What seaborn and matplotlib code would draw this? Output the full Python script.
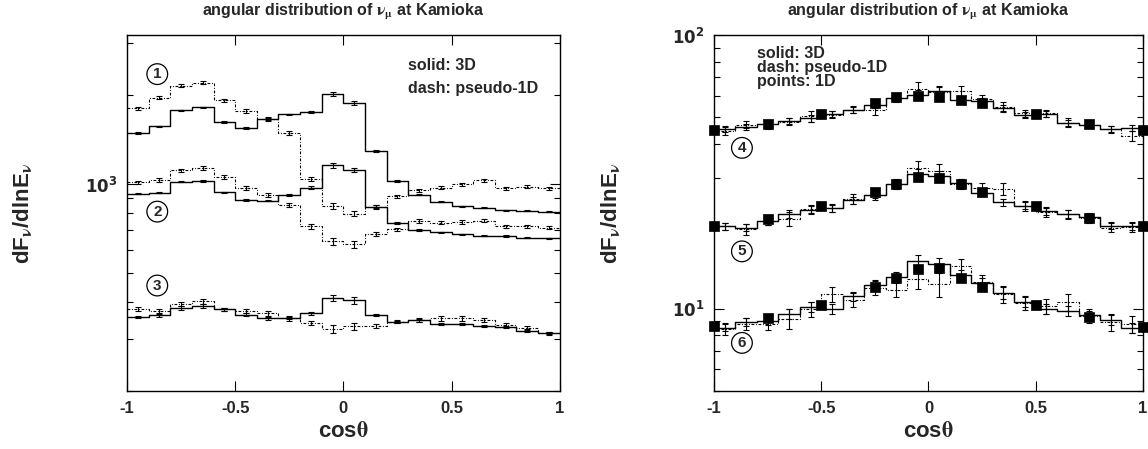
import numpy as np
import pandas as pd
import matplotlib
matplotlib.use("Agg")
import matplotlib.pyplot as plt
import seaborn as sns
from matplotlib.ticker import FuncFormatter, NullFormatter, LogLocator

# ---------------- data ----------------
bin_edges = [-1.0, -0.9, -0.8, -0.7, -0.6, -0.5, -0.4, -0.3, -0.2, -0.1, 0.0,
             0.1, 0.2, 0.3, 0.4, 0.5, 0.6, 0.7, 0.8, 0.9, 1.0]
bin_centers = [-0.95, -0.85, -0.75, -0.65, -0.55, -0.45, -0.35, -0.25, -0.15, -0.05,
               0.05, 0.15, 0.25, 0.35, 0.45, 0.55, 0.65, 0.75, 0.85, 0.95]

# left panel (curves 1-3): 3D (solid) and pseudo-1D (dash)
c1_3d = [1490, 1572, 1778, 1821, 1628, 1553, 1664, 1725, 1763, 2022, 1888, 1295, 1026, 924, 874, 843, 834, 817, 816, 809]
c1_p1d = [1807, 1967, 2156, 2210, 1924, 1770, 1665, 1490, 1046, 845, 796, 840, 911, 956, 975, 1000, 1031, 969, 982, 969]
c2_3d = [930, 938, 1021, 1025, 940, 886, 882, 918, 976, 1159, 1116, 840, 741, 701, 688, 678, 670, 669, 660, 657]
c2_p1d = [1018, 1035, 1117, 1136, 1058, 973, 918, 853, 722, 642, 628, 679, 706, 752, 741, 746, 753, 722, 723, 714]
c3_3d = [356, 361, 382, 388, 378, 363, 352, 354, 366, 413, 405, 362, 343, 347, 336, 336, 333, 329, 320, 314]
c3_p1d = [380, 372, 395, 402, 378, 374, 366, 352, 340, 325, 331, 332, 343, 349, 352, 352, 349, 334, 326, 314]

# relative errors (%)
c1_3d_err = [0.6, 0.6, 0.6, 0.6, 0.6, 0.6, 0.6, 0.6, 0.8, 1.8, 1.4, 0.8, 0.6, 0.6, 0.5, 0.5, 0.5, 0.5, 0.5, 0.5]
c1_p1d_err = [1.2, 1.2, 1.2, 1.2, 1.2, 1.4, 1.4, 1.6, 1.6, 2.2, 2.0, 1.5, 1.2, 1.2, 1.0, 1.0, 1.0, 1.0, 1.0, 1.0]
c2_3d_err = [0.6, 0.6, 0.6, 0.6, 0.6, 0.6, 0.6, 0.8, 0.8, 2.0, 1.6, 1.2, 0.6, 0.6, 0.5, 0.5, 0.5, 0.5, 0.5, 0.5]
c2_p1d_err = [1.2, 1.2, 1.2, 1.2, 1.4, 1.4, 1.6, 1.8, 1.8, 2.6, 2.6, 1.6, 1.2, 1.2, 1.2, 1.2, 1.2, 1.2, 1.2, 1.2]
c3_3d_err = [0.8, 1.2, 1.2, 1.6, 1.0, 1.0, 0.8, 0.8, 1.0, 2.6, 2.6, 1.0, 0.8, 1.2, 0.8, 0.8, 0.8, 0.8, 1.2, 0.8]
c3_p1d_err = [1.6, 1.6, 1.6, 2.0, 1.4, 1.6, 1.6, 1.6, 1.8, 3.2, 3.0, 1.6, 1.2, 1.6, 1.6, 1.6, 1.6, 1.6, 1.6, 1.2]

# right panel (curves 4-6): 3D (solid), pseudo-1D (dash), 1D (points)
c4_3d = [45.4, 46.3, 47.3, 48.6, 49.7, 51.5, 53.3, 55.6, 59.0, 60.6, 62.2, 57.9, 57.2, 53.9, 51.1, 51.5, 47.9, 47.0, 45.3, 45.7]
c4_p1d = [44.6, 47.0, 47.2, 48.3, 50.4, 51.1, 53.3, 53.0, 58.8, 63.4, 61.8, 62.5, 58.3, 54.8, 51.8, 51.8, 47.9, 47.0, 45.3, 42.8]
c5_3d = [20.0, 19.8, 20.9, 22.2, 23.0, 23.3, 24.9, 26.1, 28.6, 31.1, 30.6, 28.8, 26.5, 24.5, 23.8, 22.7, 22.2, 21.6, 20.1, 20.0]
c5_p1d = [20.0, 19.5, 21.0, 21.3, 23.1, 23.3, 25.2, 26.0, 28.6, 32.7, 31.8, 28.6, 27.5, 27.4, 23.7, 22.6, 22.1, 21.5, 19.8, 19.9]
c6_3d = [8.52, 8.94, 9.01, 9.59, 10.17, 10.0, 11.1, 12.2, 13.1, 15.0, 14.6, 13.3, 12.4, 11.4, 10.6, 10.0, 9.8, 9.45, 9.1, 8.5]
c6_p1d = [8.45, 8.81, 8.8, 9.2, 9.94, 11.3, 10.75, 11.9, 11.7, 12.8, 12.3, 14.3, 12.5, 11.3, 10.5, 10.2, 10.55, 9.4, 8.95, 8.8]

c4_3d_err = [2.5, 2.5, 3, 2.5, 3, 2.5, 2.5, 3, 3, 4, 4, 3, 3, 3, 2.5, 2.5, 2.5, 2.5, 2.5, 2.5]
c4_p1d_err = [3, 3, 4, 3, 4.5, 3, 3, 4, 3.5, 6, 5, 4, 3.5, 4, 3, 3, 3.5, 3, 3, 4]
c5_3d_err = [3, 3, 3, 3, 3, 3, 3, 3, 3.5, 4, 4, 3.5, 3, 3, 3, 3, 3, 3, 3, 3]
c5_p1d_err = [3, 5, 4, 6, 4, 3.5, 4, 4, 4, 6, 6, 4, 5, 5, 4, 4, 4, 4, 4, 4]
c6_3d_err = [3, 3, 3, 4, 4, 4, 4, 4, 4, 5, 5, 4, 4, 5, 4, 4, 4, 4, 4, 4]
c6_p1d_err = [5, 5, 5, 8, 6, 6, 6, 6, 6, 8, 10, 6, 6, 7, 6, 6, 7, 6, 7, 7]

points_x = [-1.0, -0.75, -0.5, -0.25, -0.15, -0.05, 0.05, 0.15, 0.25, 0.5, 0.75, 1.0]
c4_1d = [44.8, 47.3, 51.5, 56.5, 59.3, 60.0, 59.6, 57.9, 56.4, 51.5, 47.4, 45.0]
c5_1d = [20.1, 21.2, 23.7, 26.6, 28.6, 30.3, 30.0, 28.6, 26.6, 23.7, 21.5, 20.1]
c6_1d = [8.64, 9.27, 10.3, 12.0, 13.0, 14.0, 14.1, 13.0, 12.0, 10.3, 9.3, 8.6]

xticks = [-1, -0.5, 0, 0.5, 1]
xticklabels = ["-1", "-0.5", "0", "0.5", "1"]
title_text = r"angular distribution of $\mathrm{\nu_{\mu}}$ at Kamioka"
ylabel_text = r"dF$_{\mathrm{\nu}}$/dlnE$_{\mathrm{\nu}}$"
xlabel_text = r"cos$\mathrm{\theta}$"

# ---------------- style ----------------
sns.set_theme(style="ticks")
plt.rcParams["font.family"] = ["Liberation Sans", "DejaVu Sans"]
plt.rcParams["font.weight"] = "bold"
plt.rcParams["axes.labelweight"] = "bold"
plt.rcParams["axes.unicode_minus"] = False
plt.rcParams["mathtext.fontset"] = "custom"
plt.rcParams["mathtext.rm"] = "STIXGeneral"
plt.rcParams["mathtext.it"] = "STIXGeneral:italic"
plt.rcParams["mathtext.bf"] = "DejaVu Sans:weight=bold"
plt.rcParams["axes.edgecolor"] = "black"
plt.rcParams["axes.linewidth"] = 1.0

DASH = (0, (2.5, 1.5, 0.8, 1.5))


def draw_hist(ax, vals, errs, dashed):
    df = pd.DataFrame({"x": bin_edges, "y": list(vals) + [vals[-1]]})
    sns.lineplot(data=df, x="x", y="y", ax=ax, drawstyle="steps-post",
                 color="black", lw=0.8 if dashed else 1.0,
                 linestyle=DASH if dashed else "-",
                 estimator=None, errorbar=None, sort=True)
    v = np.array(vals, dtype=float)
    e = v * np.array(errs, dtype=float) / 100.0
    ax.errorbar(bin_centers, v, yerr=e, fmt="none", ecolor="black",
                elinewidth=0.8, capsize=2.2, capthick=0.8)


def style_axis(ax, ylim):
    ax.set_yscale("log")
    ax.set_xlim(-1, 1)
    ax.set_ylim(*ylim)
    ax.set_xticks(xticks)
    ax.set_xticklabels(xticklabels)
    ax.yaxis.set_major_locator(LogLocator(base=10))
    ax.yaxis.set_minor_locator(LogLocator(base=10, subs=np.arange(2, 10)))
    ax.yaxis.set_major_formatter(FuncFormatter(
        lambda v, p: r"$\mathbf{10^{%d}}$" % int(round(np.log10(v)))))
    ax.yaxis.set_minor_formatter(NullFormatter())
    ax.tick_params(which="both", direction="in", top=True, right=True,
                   color="black", width=0.8)
    ax.tick_params(which="major", length=7, labelsize=12, pad=7)
    ax.tick_params(which="minor", length=4)
    for lab in ax.get_xticklabels() + ax.get_yticklabels():
        lab.set_fontweight("bold")
    ax.set_title(title_text, fontsize=11.5, fontweight="bold", pad=14)
    ax.set_xlabel(xlabel_text, fontsize=16, fontweight="bold", labelpad=4)
    ax.set_ylabel(ylabel_text, fontsize=16, fontweight="bold")
    for s in ax.spines.values():
        s.set_visible(True)
        s.set_color("black")


def circled(ax, x, y, txt):
    ax.text(x, y, txt, ha="center", va="center", fontsize=11, fontweight="bold",
            bbox=dict(boxstyle="circle,pad=0.22", fc="white", ec="black", lw=0.9),
            zorder=6)


fig = plt.figure(figsize=(11.48, 4.49), dpi=100)
axL = fig.add_axes([0.1106, 0.129, 0.377, 0.793])
axR = fig.add_axes([0.622, 0.129, 0.3735, 0.793])

# left panel
for vals, errs in [(c1_3d, c1_3d_err), (c2_3d, c2_3d_err), (c3_3d, c3_3d_err)]:
    draw_hist(axL, vals, errs, dashed=False)
for vals, errs in [(c1_p1d, c1_p1d_err), (c2_p1d, c2_p1d_err), (c3_p1d, c3_p1d_err)]:
    draw_hist(axL, vals, errs, dashed=True)
style_axis(axL, (200, 3200))
axL.yaxis.set_label_coords(-0.215, 0.5)
circled(axL, -0.86, 2360, "1")
circled(axL, -0.86, 809, "2")
circled(axL, -0.86, 455, "3")
axL.text(0.30, 2530, "solid: 3D", fontsize=11.5, fontweight="bold", ha="left", va="center")
axL.text(0.30, 2110, "dash: pseudo-1D", fontsize=11.5, fontweight="bold", ha="left", va="center")

# right panel
for vals, errs in [(c4_3d, c4_3d_err), (c5_3d, c5_3d_err), (c6_3d, c6_3d_err)]:
    draw_hist(axR, vals, errs, dashed=False)
for vals, errs in [(c4_p1d, c4_p1d_err), (c5_p1d, c5_p1d_err), (c6_p1d, c6_p1d_err)]:
    draw_hist(axR, vals, errs, dashed=True)
for pts in [c4_1d, c5_1d, c6_1d]:
    sns.scatterplot(x=points_x, y=pts, ax=axR, marker="s", s=42, color="black",
                    edgecolor="black", linewidth=0.5, clip_on=False, zorder=5)
style_axis(axR, (5, 100))
axR.yaxis.set_label_coords(-0.215, 0.5)
circled(axR, -0.87, 38.7, "4")
circled(axR, -0.87, 16.2, "5")
circled(axR, -0.87, 7.5, "6")
axR.text(-0.80, 76.0, "solid: 3D\ndash: pseudo-1D\npoints: 1D", fontsize=11.5,
         fontweight="bold", ha="left", va="center", linespacing=0.92)

fig.savefig("out.png", dpi=100)
